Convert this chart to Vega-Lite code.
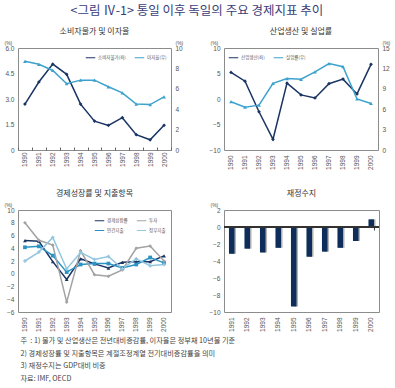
{
  "$schema": "https://vega.github.io/schema/vega-lite/v6.json",
  "padding": {"left": 3, "top": 5, "right": 0, "bottom": 0},
  "background": "white",
  "title": {"text": "<그림 Ⅳ-1> 통일 이후 독일의 주요 경제지표 추이", "font": "Noto Sans CJK KR", "fontSize": 12.5, "fontWeight": "normal", "color": "#3a3d78", "anchor": "middle", "offset": 10},
  "config": {
    "font": "Liberation Sans",
    "view": {"stroke": "#8c8c8c", "strokeWidth": 1},
    "axis": {"labelFont": "Liberation Sans", "labelFontSize": 6.5, "labelColor": "#555", "grid": false, "domain": false, "ticks": false, "labelPadding": 4, "labelOverlap": false, "titleFont": "Liberation Sans", "titleFontSize": 5, "titleFontWeight": "normal", "titleColor": "#555"},
    "legend": {"labelFont": "Noto Sans CJK KR", "labelFontSize": 4.5, "labelColor": "#555", "symbolType": "stroke", "symbolSize": 90, "symbolStrokeWidth": 1, "padding": 0, "rowPadding": 2, "columnPadding": 6, "labelOffset": 2, "offset": 4},
    "title": {"font": "Noto Sans CJK KR", "fontSize": 8, "fontWeight": "normal", "color": "#333", "offset": 4}
  },
  "datasets": {
    "p1": [
      {"year": "1990", "s": "소비자물가(좌)", "v": 2.7}, {"year": "1991", "s": "소비자물가(좌)", "v": 4.0}, {"year": "1992", "s": "소비자물가(좌)", "v": 5.05}, {"year": "1993", "s": "소비자물가(좌)", "v": 4.45}, {"year": "1994", "s": "소비자물가(좌)", "v": 2.7}, {"year": "1995", "s": "소비자물가(좌)", "v": 1.7}, {"year": "1996", "s": "소비자물가(좌)", "v": 1.45}, {"year": "1997", "s": "소비자물가(좌)", "v": 1.9}, {"year": "1998", "s": "소비자물가(좌)", "v": 0.9}, {"year": "1999", "s": "소비자물가(좌)", "v": 0.6}, {"year": "2000", "s": "소비자물가(좌)", "v": 1.45},
      {"year": "1990", "s": "이자율(우)", "v": 8.7}, {"year": "1991", "s": "이자율(우)", "v": 8.4}, {"year": "1992", "s": "이자율(우)", "v": 7.8}, {"year": "1993", "s": "이자율(우)", "v": 6.5}, {"year": "1994", "s": "이자율(우)", "v": 6.85}, {"year": "1995", "s": "이자율(우)", "v": 6.85}, {"year": "1996", "s": "이자율(우)", "v": 6.2}, {"year": "1997", "s": "이자율(우)", "v": 5.6}, {"year": "1998", "s": "이자율(우)", "v": 4.5}, {"year": "1999", "s": "이자율(우)", "v": 4.45}, {"year": "2000", "s": "이자율(우)", "v": 5.2}
    ],
    "p2": [
      {"year": "1990", "s": "산업생산(좌)", "v": 5.2}, {"year": "1991", "s": "산업생산(좌)", "v": 3.5}, {"year": "1992", "s": "산업생산(좌)", "v": -2.5}, {"year": "1993", "s": "산업생산(좌)", "v": -7.9}, {"year": "1994", "s": "산업생산(좌)", "v": 3.1}, {"year": "1995", "s": "산업생산(좌)", "v": 0.8}, {"year": "1996", "s": "산업생산(좌)", "v": 0.2}, {"year": "1997", "s": "산업생산(좌)", "v": 3.0}, {"year": "1998", "s": "산업생산(좌)", "v": 3.9}, {"year": "1999", "s": "산업생산(좌)", "v": 1.0}, {"year": "2000", "s": "산업생산(좌)", "v": 6.8},
      {"year": "1990", "s": "실업률(우)", "v": 7.1}, {"year": "1991", "s": "실업률(우)", "v": 6.3}, {"year": "1992", "s": "실업률(우)", "v": 6.6}, {"year": "1993", "s": "실업률(우)", "v": 9.8}, {"year": "1994", "s": "실업률(우)", "v": 10.5}, {"year": "1995", "s": "실업률(우)", "v": 10.4}, {"year": "1996", "s": "실업률(우)", "v": 11.5}, {"year": "1997", "s": "실업률(우)", "v": 12.7}, {"year": "1998", "s": "실업률(우)", "v": 12.25}, {"year": "1999", "s": "실업률(우)", "v": 7.5}, {"year": "2000", "s": "실업률(우)", "v": 6.85}
    ],
    "p3": [
      {"year": "1990", "s": "경제성장률", "v": 5.2}, {"year": "1991", "s": "경제성장률", "v": 5.1}, {"year": "1992", "s": "경제성장률", "v": 1.9}, {"year": "1993", "s": "경제성장률", "v": -0.9}, {"year": "1994", "s": "경제성장률", "v": 2.35}, {"year": "1995", "s": "경제성장률", "v": 1.55}, {"year": "1996", "s": "경제성장률", "v": 0.9}, {"year": "1997", "s": "경제성장률", "v": 1.8}, {"year": "1998", "s": "경제성장률", "v": 1.9}, {"year": "1999", "s": "경제성장률", "v": 1.9}, {"year": "2000", "s": "경제성장률", "v": 2.8},
      {"year": "1990", "s": "민간지출", "v": 4.15}, {"year": "1991", "s": "민간지출", "v": 4.3}, {"year": "1992", "s": "민간지출", "v": 2.85}, {"year": "1993", "s": "민간지출", "v": 0.25}, {"year": "1994", "s": "민간지출", "v": 1.45}, {"year": "1995", "s": "민간지출", "v": 1.6}, {"year": "1996", "s": "민간지출", "v": 1.6}, {"year": "1997", "s": "민간지출", "v": 0.9}, {"year": "1998", "s": "민간지출", "v": 1.45}, {"year": "1999", "s": "민간지출", "v": 2.55}, {"year": "2000", "s": "민간지출", "v": 1.7},
      {"year": "1990", "s": "투자", "v": 8.0}, {"year": "1991", "s": "투자", "v": 5.25}, {"year": "1992", "s": "투자", "v": 4.5}, {"year": "1993", "s": "투자", "v": -4.45}, {"year": "1994", "s": "투자", "v": 3.6}, {"year": "1995", "s": "투자", "v": -0.15}, {"year": "1996", "s": "투자", "v": -0.4}, {"year": "1997", "s": "투자", "v": 0.6}, {"year": "1998", "s": "투자", "v": 4.0}, {"year": "1999", "s": "투자", "v": 4.35}, {"year": "2000", "s": "투자", "v": 2.0},
      {"year": "1990", "s": "정부지출", "v": 2.0}, {"year": "1991", "s": "정부지출", "v": 3.4}, {"year": "1992", "s": "정부지출", "v": 5.7}, {"year": "1993", "s": "정부지출", "v": 0.75}, {"year": "1994", "s": "정부지출", "v": 3.35}, {"year": "1995", "s": "정부지출", "v": 2.25}, {"year": "1996", "s": "정부지출", "v": 2.7}, {"year": "1997", "s": "정부지출", "v": 0.8}, {"year": "1998", "s": "정부지출", "v": 2.35}, {"year": "1999", "s": "정부지출", "v": 1.25}, {"year": "2000", "s": "정부지출", "v": 1.45}
    ],
    "p4": [
      {"year": "1991", "v": -3.15}, {"year": "1992", "v": -2.55}, {"year": "1993", "v": -3.0}, {"year": "1994", "v": -2.45}, {"year": "1995", "v": -9.35}, {"year": "1996", "v": -3.5}, {"year": "1997", "v": -2.9}, {"year": "1998", "v": -2.45}, {"year": "1999", "v": -1.65}, {"year": "2000", "v": 0.9}
    ]
  },
  "resolve": {"scale": {"color": "independent", "shape": "independent"}, "legend": {"color": "independent", "shape": "independent"}},
  "spacing": 19,
  "vconcat": [
    {
      "bounds": "flush",
      "spacing": 53,
      "resolve": {"scale": {"color": "independent", "shape": "independent"}, "legend": {"color": "independent", "shape": "independent"}},
      "hconcat": [
        {
          "title": "소비자물가 및 이자율",
          "width": 153, "height": 102,
          "data": {"name": "p1"},
          "encoding": {
            "x": {"field": "year", "type": "ordinal", "title": null, "scale": {"type": "band", "paddingInner": 0, "paddingOuter": 0}, "axis": {"labelAngle": -90, "ticks": true, "tickBand": "extent", "tickSize": -3, "tickColor": "#666", "labelPadding": 5}},
            "color": {"field": "s", "type": "nominal", "scale": {"domain": ["소비자물가(좌)", "이자율(우)"], "range": ["#1a3463", "#3ca2cd"]}, "legend": {"title": null, "orient": "top-right", "direction": "horizontal"}}
          },
          "layer": [
            {
              "transform": [{"filter": "datum.s == '소비자물가(좌)'"}],
              "mark": {"type": "line", "strokeWidth": 1.5, "point": {"shape": "diamond", "size": 14, "filled": true}},
              "encoding": {"y": {"field": "v", "type": "quantitative", "scale": {"domain": [0, 6]}, "axis": {"values": [0, 1.5, 3, 4.5, 6], "labelExpr": "datum.value == 0 ? '0' : format(datum.value, '.1f')", "title": "(%)", "titleAngle": 0, "titleAlign": "left", "titleBaseline": "bottom", "titleX": -14, "titleY": -3}}}
            },
            {
              "transform": [{"filter": "datum.s == '이자율(우)'"}],
              "mark": {"type": "line", "strokeWidth": 1.5, "point": {"shape": "triangle-up", "size": 14, "filled": true}},
              "encoding": {"y": {"field": "v", "type": "quantitative", "scale": {"domain": [0, 10]}, "axis": {"orient": "right", "values": [0, 2, 4, 6, 8, 10], "title": "(%)", "titleAngle": 0, "titleAlign": "left", "titleBaseline": "bottom", "titleX": 4, "titleY": -3}}}
            }
          ],
          "resolve": {"scale": {"y": "independent"}}
        },
        {
          "title": "산업생산 및 실업률",
          "width": 154, "height": 102,
          "data": {"name": "p2"},
          "encoding": {
            "x": {"field": "year", "type": "ordinal", "title": null, "scale": {"type": "band", "paddingInner": 0, "paddingOuter": 0}, "axis": {"labelAngle": -90, "labelPadding": 5}},
            "color": {"field": "s", "type": "nominal", "scale": {"domain": ["산업생산(좌)", "실업률(우)"], "range": ["#1a3463", "#3ca2cd"]}, "legend": {"title": null, "orient": "top-left", "direction": "horizontal"}}
          },
          "layer": [
            {
              "layer": [
                {"mark": {"type": "rule", "color": "#333", "strokeWidth": 1}, "encoding": {"y": {"datum": 0}}},
                {
                  "transform": [{"filter": "datum.s == '산업생산(좌)'"}],
                  "mark": {"type": "line", "strokeWidth": 1.5, "point": {"shape": "diamond", "size": 14, "filled": true}},
                  "encoding": {"y": {"field": "v", "type": "quantitative"}}
                }
              ],
              "encoding": {"y": {"type": "quantitative", "scale": {"domain": [-10, 10]}, "axis": {"values": [-10, -5, 0, 5, 10], "title": "(%)", "titleAngle": 0, "titleAlign": "left", "titleBaseline": "bottom", "titleX": -14, "titleY": -3}}}
            },
            {
              "transform": [{"filter": "datum.s == '실업률(우)'"}],
              "mark": {"type": "line", "strokeWidth": 1.5, "point": {"shape": "triangle-up", "size": 14, "filled": true}},
              "encoding": {"y": {"field": "v", "type": "quantitative", "scale": {"domain": [0, 15]}, "axis": {"orient": "right", "values": [0, 3, 6, 9, 12, 15], "title": "(%)", "titleAngle": 0, "titleAlign": "left", "titleBaseline": "bottom", "titleX": 4, "titleY": -3}}}
            }
          ],
          "resolve": {"scale": {"y": "independent"}}
        }
      ]
    },
    {
      "bounds": "flush",
      "spacing": 53,
      "resolve": {"scale": {"color": "independent", "shape": "independent"}, "legend": {"color": "independent", "shape": "independent"}},
      "title": {"text": ["주\u00a0\u00a0: 1) 물가 및 산업생산은 전년대비증감률, 이자율은 정부채 10년물 기준", "\u3000\u3000\u00a02) 경제성장률 및 지출항목은 계절조정계열 전기대비증감률을 의미", "\u3000\u3000\u00a03) 재정수지는 GDP대비 비중", "자료: IMF, OECD"], "orient": "bottom", "anchor": "start", "fontSize": 7.2, "color": "#444", "lineHeight": 12.7, "offset": 5, "dx": 17},
      "hconcat": [
        {
          "title": "경제성장률 및 지출항목",
          "width": 153, "height": 102,
          "data": {"name": "p3"},
          "encoding": {
            "x": {"field": "year", "type": "ordinal", "title": null, "scale": {"type": "band", "paddingInner": 0, "paddingOuter": 0}, "axis": {"labelAngle": -90, "labelPadding": 5}},
            "y": {"type": "quantitative", "scale": {"domain": [-6, 10]}, "axis": {"values": [-6, -4, -2, 0, 2, 4, 6, 8, 10], "title": "(%)", "titleAngle": 0, "titleAlign": "left", "titleBaseline": "bottom", "titleX": -14, "titleY": -3}}
          },
          "layer": [
            {"mark": {"type": "rule", "color": "#333", "strokeWidth": 1}, "encoding": {"y": {"datum": 0}}},
            {
              "mark": {"type": "line", "strokeWidth": 1.5},
              "encoding": {
                "y": {"field": "v", "type": "quantitative"},
                "color": {"field": "s", "type": "nominal", "scale": {"domain": ["경제성장률", "민간지출", "투자", "정부지출"], "range": ["#1a3463", "#2a93c4", "#a3a3a3", "#94c6de"]}, "legend": {"title": null, "orient": "top-right", "columns": 2, "offset": 5, "symbolType": "stroke"}}
              }
            },
            {"transform": [{"filter": "datum.s == '경제성장률'"}], "mark": {"type": "point", "shape": "triangle-up", "filled": true, "size": 14, "opacity": 1, "color": "#1a3463"}, "encoding": {"y": {"field": "v", "type": "quantitative"}}},
            {"transform": [{"filter": "datum.s == '민간지출'"}], "mark": {"type": "point", "shape": "square", "filled": true, "size": 14, "opacity": 1, "color": "#2a93c4"}, "encoding": {"y": {"field": "v", "type": "quantitative"}}},
            {"transform": [{"filter": "datum.s == '투자'"}], "mark": {"type": "point", "shape": "diamond", "filled": true, "size": 14, "opacity": 1, "color": "#a3a3a3"}, "encoding": {"y": {"field": "v", "type": "quantitative"}}},
            {"transform": [{"filter": "datum.s == '정부지출'"}], "mark": {"type": "point", "shape": "cross", "filled": true, "size": 12, "opacity": 1, "color": "#94c6de"}, "encoding": {"y": {"field": "v", "type": "quantitative"}}}
          ]
        },
        {
          "title": "재정수지",
          "width": 155, "height": 102,
          "data": {"name": "p4"},
          "encoding": {
            "y": {"type": "quantitative", "scale": {"domain": [-10, 2]}, "axis": {"values": [-10, -8, -6, -4, -2, 0, 2], "title": "(%)", "titleAngle": 0, "titleAlign": "left", "titleBaseline": "bottom", "titleX": -14, "titleY": -3}}
          },
          "layer": [
            {"mark": {"type": "bar", "color": "#b5b5b5", "xOffset": 1.5}, "encoding": {"x": {"field": "year", "type": "ordinal", "title": null, "scale": {"type": "band", "paddingInner": 0.64, "paddingOuter": 0.32}, "axis": {"orient": "top", "offset": -17, "labels": false, "domain": false, "ticks": true, "tickBand": "extent", "tickSize": -3, "tickColor": "#444"}}, "y": {"field": "v", "type": "quantitative"}}},
            {"mark": {"type": "bar", "color": "#0e2d5b"}, "encoding": {"x": {"field": "year", "type": "ordinal", "title": null, "axis": {"orient": "bottom", "labelAngle": -90, "labelPadding": 5}}, "y": {"field": "v", "type": "quantitative"}}},
            {"mark": {"type": "rule", "color": "#333", "strokeWidth": 1}, "encoding": {"y": {"datum": 0}}}
          ],
          "resolve": {"axis": {"x": "independent"}}
        }
      ]
    }
  ]
}
